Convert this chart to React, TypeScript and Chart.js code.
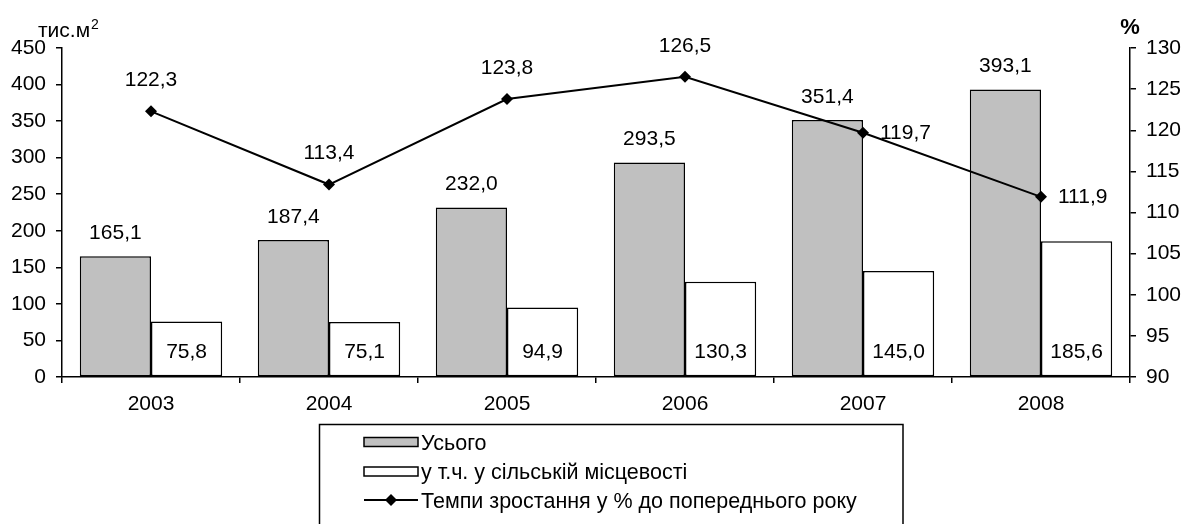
import React, { useEffect, useRef } from 'react';
import { Chart, registerables } from 'chart.js';

Chart.register(...registerables);

const categories = ['2003', '2004', '2005', '2006', '2007', '2008'];
const totalValues = [165.1, 187.4, 232.0, 293.5, 351.4, 393.1];
const ruralValues = [75.8, 75.1, 94.9, 130.3, 145.0, 185.6];
const growthValues = [122.3, 113.4, 123.8, 126.5, 119.7, 111.9];
const legendLabels = ['Усього', 'у т.ч. у сільській місцевості', 'Темпи зростання у % до попереднього року'];
const leftAxisTitle = 'тис.м';
const rightAxisTitle = '%';

const FONT = '"Liberation Sans", Arial, sans-serif';
const GRAY = '#c0c0c0';

const fmt = (v: number) => v.toFixed(1).replace('.', ',');

export default function App() {
  const ref = useRef<HTMLCanvasElement>(null);

  useEffect(() => {
    if (!ref.current) return;

    const overlay = {
      id: 'overlay',
      afterDatasetsDraw(chart: any) {
        const ctx = chart.ctx;
        ctx.save();
        ctx.font = `21px ${FONT}`;
        ctx.fillStyle = '#000';
        ctx.textBaseline = 'middle';
        ctx.textAlign = 'center';
        chart.getDatasetMeta(0).data.forEach((el: any, i: number) => {
          ctx.fillText(fmt(totalValues[i]), el.x, el.y - 23);
        });
        chart.getDatasetMeta(1).data.forEach((el: any, i: number) => {
          ctx.fillText(fmt(ruralValues[i]), el.x, el.base - 24);
        });
        chart.getDatasetMeta(2).data.forEach((el: any, i: number) => {
          if (i >= 4) {
            ctx.textAlign = 'left';
            ctx.fillText(fmt(growthValues[i]), el.x + 17, el.y);
          } else {
            ctx.textAlign = 'center';
            ctx.fillText(fmt(growthValues[i]), el.x, el.y - 31);
          }
        });
        ctx.restore();
      },
      afterDraw(chart: any) {
        const ctx = chart.ctx;
        const area = chart.chartArea;
        ctx.save();
        ctx.fillStyle = '#000';
        // axis titles
        ctx.textBaseline = 'alphabetic';
        ctx.textAlign = 'left';
        ctx.font = `21px ${FONT}`;
        ctx.fillText(leftAxisTitle, 38, 37);
        const w = ctx.measureText(leftAxisTitle).width;
        ctx.font = `14px ${FONT}`;
        ctx.fillText('2', 38 + w + 1, 29);
        ctx.font = `bold 22px ${FONT}`;
        ctx.textAlign = 'center';
        ctx.fillText(rightAxisTitle, area.right, 34);

        // legend box
        ctx.strokeStyle = '#000';
        ctx.lineWidth = 1.5;
        ctx.beginPath();
        ctx.moveTo(319.5, 530);
        ctx.lineTo(319.5, 424.5);
        ctx.lineTo(903, 424.5);
        ctx.lineTo(903, 530);
        ctx.stroke();

        const sx = 364;
        const sw = 54;
        const tx = 421;
        const rows = [442, 471.5, 500];
        ctx.font = `21.5px ${FONT}`;
        ctx.textAlign = 'left';
        ctx.textBaseline = 'middle';
        // row 1
        ctx.fillStyle = GRAY;
        ctx.fillRect(sx, rows[0] - 4.5, sw, 9);
        ctx.lineWidth = 1.5;
        ctx.strokeRect(sx, rows[0] - 4.5, sw, 9);
        // row 2
        ctx.fillStyle = '#fff';
        ctx.fillRect(sx, rows[1] - 4.5, sw, 9);
        ctx.strokeRect(sx, rows[1] - 4.5, sw, 9);
        // row 3
        ctx.lineWidth = 2;
        ctx.beginPath();
        ctx.moveTo(sx, rows[2]);
        ctx.lineTo(sx + sw, rows[2]);
        ctx.stroke();
        ctx.fillStyle = '#000';
        const cx = sx + sw / 2;
        ctx.beginPath();
        ctx.moveTo(cx, rows[2] - 6);
        ctx.lineTo(cx + 6, rows[2]);
        ctx.lineTo(cx, rows[2] + 6);
        ctx.lineTo(cx - 6, rows[2]);
        ctx.closePath();
        ctx.fill();
        legendLabels.forEach((t, i) => ctx.fillText(t, tx, rows[i] + 2));
        ctx.restore();
      },
    };

    const chart = new Chart(ref.current, {
      type: 'bar',
      data: {
        labels: categories,
        datasets: [
          {
            type: 'bar',
            label: legendLabels[0],
            data: totalValues,
            backgroundColor: GRAY,
            borderColor: '#000',
            borderWidth: 1.5,
            borderSkipped: false,
            yAxisID: 'y',
            order: 1,
            categoryPercentage: 0.8,
            barPercentage: 1.0,
          },
          {
            type: 'bar',
            label: legendLabels[1],
            data: ruralValues,
            backgroundColor: '#ffffff',
            borderColor: '#000',
            borderWidth: 1.5,
            borderSkipped: false,
            yAxisID: 'y',
            order: 2,
            categoryPercentage: 0.8,
            barPercentage: 1.0,
          },
          {
            type: 'line',
            label: legendLabels[2],
            data: growthValues,
            borderColor: '#000',
            backgroundColor: '#000',
            borderWidth: 2,
            pointStyle: 'rectRot',
            pointRadius: 6,
            pointBorderWidth: 0,
            tension: 0,
            yAxisID: 'y1',
            order: 0,
          } as any,
        ],
      },
      options: {
        responsive: false,
        animation: false,
        devicePixelRatio: 1,
        layout: { padding: { top: 48, left: 0, right: 0, bottom: 107 } },
        plugins: {
          legend: { display: false },
          tooltip: { enabled: false },
        },
        scales: {
          x: {
            grid: { drawOnChartArea: false, drawTicks: true, tickLength: 6, color: '#000', lineWidth: 1.5, offset: true },
            border: { display: true, color: '#000', width: 1.5 },
            ticks: { color: '#000', font: { family: FONT, size: 21 }, padding: 9, maxRotation: 0 },
            afterFit: (s: any) => { s.height = 40; },
          },
          y: {
            position: 'left',
            min: 0,
            max: 450,
            grid: { drawOnChartArea: false, drawTicks: true, tickLength: 6, color: '#000', lineWidth: 1.5 },
            border: { display: true, color: '#000', width: 1.5 },
            ticks: { stepSize: 50, color: '#000', font: { family: FONT, size: 21 }, padding: 10 },
            afterFit: (s: any) => { s.width = 62; },
          },
          y1: {
            position: 'right',
            min: 90,
            max: 130,
            grid: { drawOnChartArea: false, drawTicks: true, tickLength: 6, color: '#000', lineWidth: 1.5 },
            border: { display: true, color: '#000', width: 1.5 },
            ticks: { stepSize: 5, color: '#000', font: { family: FONT, size: 21 }, padding: 10 },
            afterFit: (s: any) => { s.width = 54; },
          },
        },
      } as any,
      plugins: [overlay],
    });

    return () => chart.destroy();
  }, []);

  return (
    <div style={{ position: 'absolute', left: 0, top: 0, width: 1184, height: 524, background: '#fff' }}>
      <canvas ref={ref} width={1184} height={524} style={{ display: 'block' }} />
    </div>
  );
}
